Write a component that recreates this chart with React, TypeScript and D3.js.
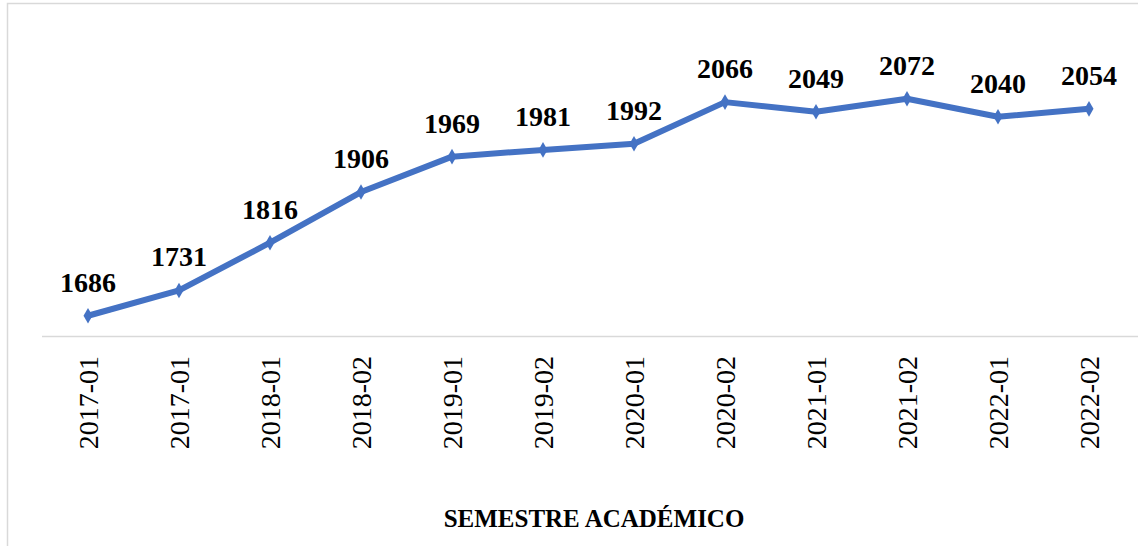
import React, { useRef, useEffect } from 'react';
import * as d3 from 'd3';

const semesters = [
  '2017-01', '2017-01', '2018-01', '2018-02', '2019-01', '2019-02',
  '2020-01', '2020-02', '2021-01', '2021-02', '2022-01', '2022-02',
];
const students = [1686, 1731, 1816, 1906, 1969, 1981, 1992, 2066, 2049, 2072, 2040, 2054];
const axisTitle = 'SEMESTRE ACADÉMICO';

const W = 1138;
const H = 546;
const FONT = "'Liberation Serif', 'Times New Roman', Times, 'DejaVu Serif', serif";

const App = () => {
  const svgRef = useRef<SVGSVGElement>(null);

  useEffect(() => {
    const svg = d3.select(svgRef.current);
    svg.selectAll('*').remove();

    // chart frame (runs off the right / bottom edge like the source)
    svg.append('rect')
      .attr('x', 7.5).attr('y', 3.5)
      .attr('width', 1300).attr('height', 700)
      .attr('fill', '#fff')
      .attr('stroke', '#d9d9d9').attr('stroke-width', 1.5);

    const xScale = d3.scaleBand<number>()
      .domain(semesters.map((_, i) => i))
      .range([42.5, 1134.5]);
    const yScale = d3.scaleLinear().domain([1650, 2100]).range([336, 83]);
    const cx = (i: number) => (xScale(i) as number) + xScale.bandwidth() / 2;

    // category axis
    svg.append('line')
      .attr('x1', 42).attr('x2', W)
      .attr('y1', 336.5).attr('y2', 336.5)
      .attr('stroke', '#d9d9d9').attr('stroke-width', 1.5);

    svg.selectAll('.tick-label')
      .data(semesters)
      .join('text')
      .attr('class', 'tick-label')
      .attr('transform', (_, i) => `translate(${cx(i) + 10},356) rotate(-90)`)
      .attr('text-anchor', 'end')
      .style('font-family', FONT)
      .style('font-size', '28px')
      .attr('fill', '#000')
      .text((d) => d);

    const line = d3.line<number>()
      .x((_, i) => cx(i))
      .y((d) => yScale(d));

    svg.append('path')
      .datum(students)
      .attr('d', line)
      .attr('fill', 'none')
      .attr('stroke', '#4472C4')
      .attr('stroke-width', 6)
      .attr('stroke-linejoin', 'round');

    svg.selectAll('.marker')
      .data(students)
      .join('path')
      .attr('class', 'marker')
      .attr('d', d3.symbol(d3.symbolDiamond, 70))
      .attr('transform', (d, i) => `translate(${cx(i)},${yScale(d)})`)
      .attr('fill', '#4472C4');

    svg.selectAll('.value-label')
      .data(students)
      .join('text')
      .attr('class', 'value-label')
      .attr('x', (_, i) => cx(i))
      .attr('y', (d) => yScale(d) - 24)
      .attr('text-anchor', 'middle')
      .style('font-family', FONT)
      .style('font-weight', 'bold')
      .style('font-size', '28px')
      .attr('fill', '#000')
      .text((d) => d);

    svg.append('text')
      .attr('x', 594).attr('y', 527)
      .attr('text-anchor', 'middle')
      .style('font-family', FONT)
      .style('font-weight', 'bold')
      .style('font-size', '25px')
      .attr('fill', '#000')
      .text(axisTitle);
  }, []);

  return (
    <div>
      <svg ref={svgRef} width={W} height={H}
        style={{ position: 'absolute', left: 0, top: 0, background: '#fff' }} />
    </div>
  );
};

export default App;
